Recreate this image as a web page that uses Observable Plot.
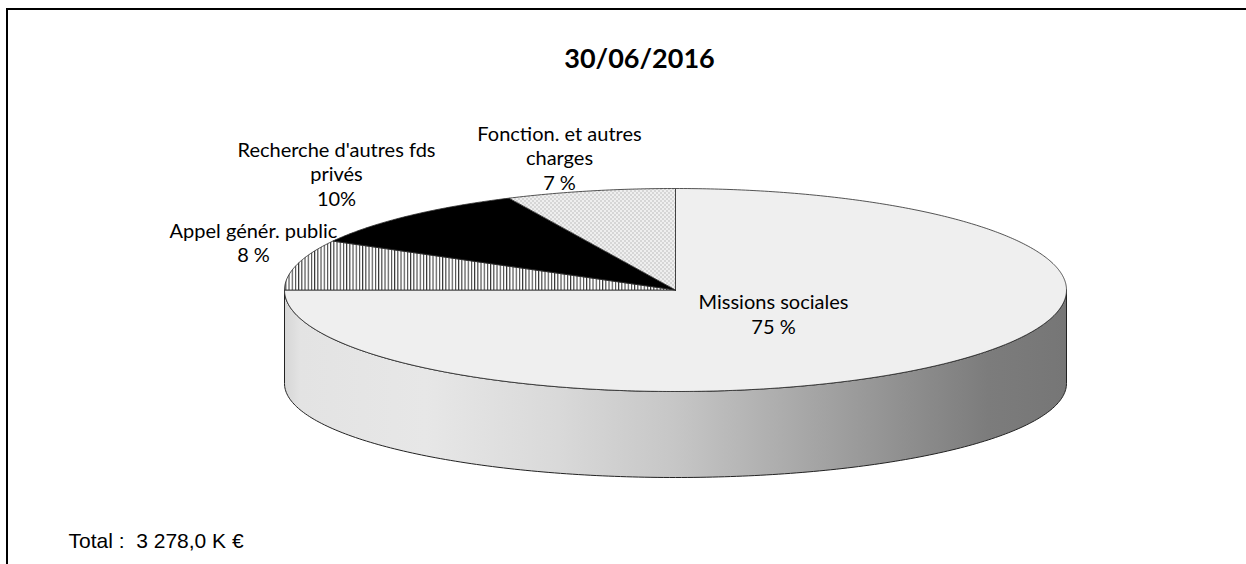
<!DOCTYPE html>
<html>
<head>
<meta charset="utf-8">
<script src="https://cdn.jsdelivr.net/npm/d3@7"></script>
<script src="https://cdn.jsdelivr.net/npm/@observablehq/plot@0.6"></script>
<style>
  html, body { margin: 0; padding: 0; background: #fff; }
  #wrap { position: relative; width: 1246px; height: 564px; overflow: hidden; }
  #frame { position: absolute; left: 6px; top: 8px; width: 1300px; height: 600px;
           border-top: 2px solid #000; border-left: 2px solid #000; pointer-events: none; }
  svg { display: block; }
</style>
</head>
<body>
<div id="wrap"><div id="chart"></div><div id="frame"></div></div>
<script>
// ---------- data ----------
const categories = ["Missions sociales", "Appel génér. public", "Recherche d'autres fds privés", "Fonction. et autres charges"];
const shares = [75, 8, 10, 7];
const labelTexts = ["Missions sociales\n75 %", "Appel génér. public\n8 %", "Recherche d'autres fds\nprivés\n10%", "Fonction. et autres\ncharges\n7 %"];
const titleText = "30/06/2016";
const totalText = "Total :\u00a0\u00a03 278,0 K €";

// ---------- layout / style ----------
const W = 1246, H = 564;
const geom = { cx: 675, cy: 289.5, rx: 391, ry: 101.5, bottomCy: 383, bottomRy: 94 };
const sliceFills = ["#efefef", "url(#stripes)", "#000000", "url(#dots)"];
const labelAnchors = [[773, 313], [253, 241.5], [336, 173], [559, 157]];
const labelFont = "Lato, 'Noto Sans', sans-serif";

// projection of pie angle (0 = 12 o'clock, clockwise)
const topPt = t => ({ x: geom.cx + geom.rx * Math.sin(t), y: geom.cy - geom.ry * Math.cos(t) });
const botPt = t => ({ x: geom.cx + geom.rx * Math.sin(t), y: geom.bottomCy - geom.bottomRy * Math.cos(t) });

const arcs = d3.pie().sort(null).value(d => d).startAngle(0).endAngle(2 * Math.PI)(shares);

function slicePolygon(a) {
  const pts = [{ x: geom.cx, y: geom.cy }];
  const n = Math.max(4, Math.ceil((a.endAngle - a.startAngle) / 0.01));
  for (let i = 0; i <= n; i++) pts.push(topPt(a.startAngle + (a.endAngle - a.startAngle) * i / n));
  pts.push({ x: geom.cx, y: geom.cy });
  return pts;
}

// side (front half: from 3 o'clock to 9 o'clock through 6)
function sidePolygon() {
  const pts = [];
  const a0 = Math.PI / 2, a1 = 3 * Math.PI / 2, n = 200;
  for (let i = 0; i <= n; i++) pts.push(topPt(a0 + (a1 - a0) * i / n));
  for (let i = n; i >= 0; i--) pts.push(botPt(a0 + (a1 - a0) * i / n));
  pts.push(topPt(a0));
  return pts;
}

function defsMark() {
  const defs = d3.create("svg:defs");
  const st = defs.append("pattern").attr("id", "stripes").attr("patternUnits", "userSpaceOnUse")
    .attr("width", 3.2).attr("height", 10);
  st.append("rect").attr("width", 3.2).attr("height", 10).attr("fill", "#ffffff");
  st.append("rect").attr("x", 0).attr("width", 1.1).attr("height", 10).attr("fill", "#3a3a3a");
  const dt = defs.append("pattern").attr("id", "dots").attr("patternUnits", "userSpaceOnUse")
    .attr("width", 4).attr("height", 4);
  dt.append("rect").attr("width", 4).attr("height", 4).attr("fill", "#efefef");
  dt.append("rect").attr("x", 0).attr("y", 0).attr("width", 1).attr("height", 1).attr("fill", "#8a8a8a");
  dt.append("rect").attr("x", 2).attr("y", 2).attr("width", 1).attr("height", 1).attr("fill", "#8a8a8a");
  const g = defs.append("linearGradient").attr("id", "sideGrad").attr("gradientUnits", "userSpaceOnUse")
    .attr("x1", geom.cx - geom.rx).attr("x2", geom.cx + geom.rx).attr("y1", 0).attr("y2", 0);
  [[0, "#d6d6d6"], [0.02, "#e3e3e3"], [0.18, "#e7e7e7"], [0.35, "#d9d9d9"], [0.5, "#c6c6c6"],
   [0.65, "#aaaaaa"], [0.8, "#8e8e8e"], [0.9, "#7c7c7c"], [1, "#767676"]]
    .forEach(([o, c]) => g.append("stop").attr("offset", o).attr("stop-color", c));
  return defs.node();
}

const labelData = labelTexts.map((t, i) => ({ text: t, x: labelAnchors[i][0], y: labelAnchors[i][1] }));

const chart = Plot.plot({
  width: W, height: H,
  margin: 0,
  x: { domain: [0, W], range: [0, W], axis: null },
  y: { domain: [0, H], range: [0, H], axis: null },
  marks: [
    defsMark,
    Plot.line(sidePolygon(), { x: "x", y: "y", fill: "url(#sideGrad)", stroke: "#222", strokeWidth: 1, curve: "linear" }),
    ...arcs.map((a, i) => Plot.line(slicePolygon(a), {
      x: "x", y: "y", fill: sliceFills[i], stroke: "#2a2a2a", strokeWidth: 0.8, curve: "linear"
    })),
    Plot.text(labelData, { x: "x", y: "y", text: "text", fontSize: 20, lineHeight: 1.22,
      fontFamily: labelFont, fill: "#000", textAnchor: "middle" }),
    Plot.text([titleText], { x: () => 639, y: () => 59, text: d => d, fontSize: 27, fontWeight: "bold",
      fontFamily: labelFont, fill: "#000", textAnchor: "middle" }),
    Plot.text([totalText], { x: () => 68, y: () => 541, text: d => d, fontSize: 21,
      fontFamily: "'Liberation Sans', Arial, sans-serif", fill: "#000", textAnchor: "start" })
  ]
});
document.getElementById("chart").appendChild(chart);
</script>
</body>
</html>
